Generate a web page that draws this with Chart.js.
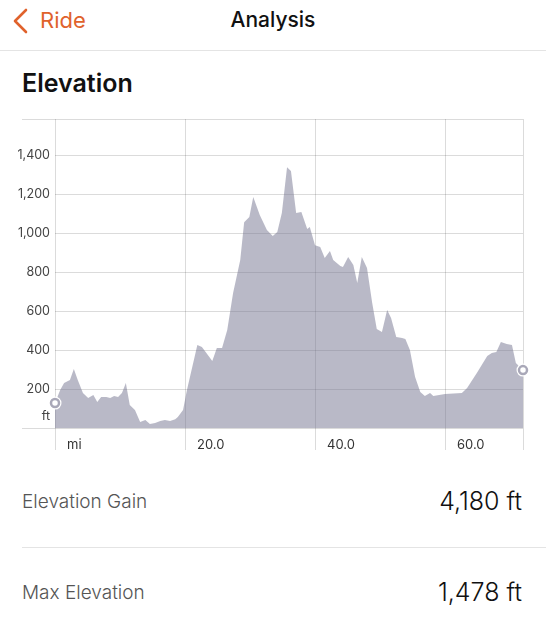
<!DOCTYPE html>
<html>
<head>
<meta charset="utf-8">
<script src="https://cdn.jsdelivr.net/npm/chart.js@4.4.1/dist/chart.umd.min.js"></script>
<style>
  html, body { margin: 0; padding: 0; background: #fff; }
  body { width: 546px; height: 640px; position: relative; overflow: hidden; font-family: Inter, "Noto Sans", sans-serif; }
  .abs { position: absolute; white-space: nowrap; }
  #back { left: 0; top: 0; }
  #ride { left: 40px; top: 5px; font-size: 22px; color: #e0622c; line-height: 30px; }
  #title { left: 0; width: 546px; text-align: center; top: 5px; font-size: 21px; font-weight: 500; color: #111; line-height: 30px; }
  #topline { left: 0; top: 50px; width: 546px; height: 1px; background: #e4e4e4; }
  #section { left: 22px; top: 67px; font-size: 25px; font-weight: 600; color: #111; line-height: 32px; }
  #chartBox { left: 0; top: 110px; width: 546px; height: 350px; }
  .label { left: 22px; font-size: 19px; color: #555; font-weight: 300; line-height: 28px; }
  .value { right: 24px; font-size: 25px; color: #111; font-weight: 300; line-height: 32px; }
  #rowline { left: 22px; top: 547px; width: 524px; height: 1px; background: #e4e4e4; }
</style>
</head>
<body>
<svg id="back" class="abs" width="40" height="45"><path d="M26 10 L15 21 L26 32" fill="none" stroke="#e0622c" stroke-width="2.6" stroke-linecap="round" stroke-linejoin="round"/></svg>
<div id="ride" class="abs">Ride</div>
<div id="title" class="abs">Analysis</div>
<div id="topline" class="abs"></div>
<div id="section" class="abs">Elevation</div>
<div id="chartBox" class="abs"><canvas id="elevChart" width="546" height="350"></canvas></div>
<div class="abs label" style="top:488px">Elevation Gain</div>
<div class="abs value" style="top:485px">4,180 ft</div>
<div id="rowline" class="abs"></div>
<div class="abs label" style="top:579px">Max Elevation</div>
<div class="abs value" style="top:576px">1,478 ft</div>

<script>
// distance along the ride (mi) and elevation (ft)
const distanceMi = [0.0, 0.8, 1.4, 2.3, 2.9, 3.5, 4.3, 5.1, 5.9, 6.5, 7.1, 7.9, 8.5, 9.1, 9.7, 10.3, 10.9,
  11.5, 12.3, 13.1, 13.9, 14.6, 15.4, 16.2, 16.9, 17.7, 18.5, 18.9, 19.7, 20.3, 21.9, 22.6, 24.2, 24.9,
  25.7, 26.5, 27.4, 28.5, 29.1, 29.9, 30.5, 31.5, 32.6, 33.5, 34.2, 34.9, 35.7, 36.3, 37.1, 37.9, 38.8,
  39.2, 40.0, 40.8, 41.5, 42.3, 42.8, 43.9, 44.3, 45.1, 45.9, 46.5, 47.2, 48.0, 48.8, 49.5, 50.3, 51.1,
  51.7, 52.5, 53.4, 53.9, 54.6, 55.4, 56.2, 56.9, 57.7, 58.2, 60.0, 62.6, 63.4, 64.9, 66.5, 67.2, 67.9,
  68.6, 69.5, 70.3, 70.9, 72.0];
const elevationFt = [128, 195, 231, 246, 303, 246, 179, 154, 169, 133, 159, 159, 154, 164, 159, 179, 231,
  118, 92, 31, 41, 21, 26, 36, 41, 36, 45, 56, 92, 195, 426, 415, 344, 410,
  410, 503, 692, 862, 1056, 1082, 1185, 1092, 1015, 985, 1005, 1103, 1338, 1318, 1103, 1108, 1021,
  1031, 938, 928, 872, 908, 862, 831, 826, 877, 836, 744, 877, 821, 641, 508, 492, 605,
  564, 467, 462, 456, 400, 262, 185, 164, 179, 164, 174, 179, 205, 282, 369, 385, 390,
  441, 431, 426, 333, 297];

const xTickValues = [0, 20, 40, 60, 72];
const xTickLabels = ['mi', '20.0', '40.0', '60.0', ''];
const yTickValues = [0, 62, 200, 400, 600, 800, 1000, 1200, 1400, 1585];
const yTickLabels = ['', 'ft', '200', '400', '600', '800', '1,000', '1,200', '1,400', ''];

const gridGray = 'rgba(0,0,0,0.14)';
const points = distanceMi.map((d, i) => ({ x: d, y: elevationFt[i] }));
const ends = [points[0], points[points.length - 1]];

const ctx = document.getElementById('elevChart').getContext('2d');
new Chart(ctx, {
  type: 'line',
  data: {
    datasets: [
      {
        data: ends, showLine: false, clip: false, order: 0,
        pointRadius: 4, pointBorderWidth: 2.5,
        pointBackgroundColor: '#fff', pointBorderColor: '#a9a8b8'
      },
      {
        data: ends, showLine: false, clip: false, order: 1,
        pointRadius: 6.5, pointBorderWidth: 0,
        pointBackgroundColor: '#fff'
      },
      {
        data: points, order: 2,
        fill: 'origin',
        backgroundColor: 'rgba(115,115,143,0.5)',
        borderWidth: 0,
        pointRadius: 0,
        tension: 0
      }
    ]
  },
  options: {
    responsive: false,
    animation: false,
    layout: { padding: { top: 9, right: 23, left: 0, bottom: 0 } },
    plugins: { legend: { display: false }, tooltip: { enabled: false } },
    scales: {
      x: {
        type: 'linear', min: 0, max: 72,
        afterBuildTicks: s => { s.ticks = xTickValues.map(v => ({ value: v })); },
        afterFit: s => { s.height = 32; },
        border: { display: false },
        grid: { color: gridGray, tickColor: gridGray, tickLength: 22, drawTicks: true },
        ticks: {
          callback: (v, i) => xTickLabels[i],
          align: 'start', labelOffset: 12, padding: -13,
          maxRotation: 0, autoSkip: false,
          color: '#333', font: { family: 'Inter', size: 13 }
        }
      },
      y: {
        min: 0, max: 1585,
        afterBuildTicks: s => { s.ticks = yTickValues.map(v => ({ value: v })); },
        afterFit: s => { s.width = 55; },
        border: { display: false },
        grid: {
          color: c => c.index === 1 ? 'rgba(0,0,0,0)' : gridGray,
          tickColor: c => (c.index === 0 || c.index === yTickValues.length - 1) ? gridGray : 'rgba(0,0,0,0)',
          tickLength: 33, drawTicks: true
        },
        ticks: {
          callback: (v, i) => yTickLabels[i],
          padding: -28, autoSkip: false,
          color: '#444', font: { family: 'Inter', size: 12.5 }
        }
      }
    }
  }
});
</script>
</body>
</html>
